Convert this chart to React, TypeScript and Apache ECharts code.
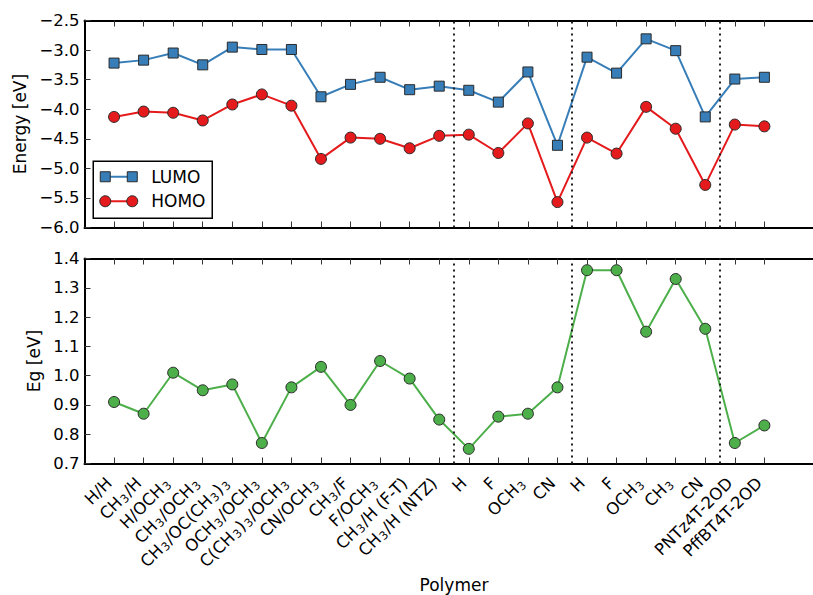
import React, { useEffect, useRef } from "react";
import * as echarts from "echarts";

const categories = [
  "H/H", "CH₃/H", "H/OCH₃", "CH₃/OCH₃", "CH₃/OC(CH₃)₃", "OCH₃/OCH₃",
  "C(CH₃)₃/OCH₃", "CN/OCH₃", "CH₃/F", "F/OCH₃", "CH₃/H (F-T)", "CH₃/H (NTZ)",
  "H", "F", "OCH₃", "CN", "H", "F", "OCH₃", "CH₃", "CN", "PNTz4T-2OD", "PffBT4T-2OD",
];
const lumo = [
  -3.22, -3.17, -3.05, -3.25, -2.95, -2.99, -2.99, -3.79, -3.58, -3.46, -3.67, -3.61,
  -3.68, -3.88, -3.37, -4.61, -3.12, -3.39, -2.81, -3.01, -4.13, -3.49, -3.46,
];
const homo = [
  -4.13, -4.04, -4.06, -4.19, -3.92, -3.75, -3.94, -4.84, -4.48, -4.50, -4.66, -4.45,
  -4.43, -4.74, -4.24, -5.57, -4.48, -4.75, -3.96, -4.33, -5.28, -4.26, -4.29,
];
const eg = [
  0.91, 0.87, 1.01, 0.95, 0.97, 0.77, 0.96, 1.03, 0.90, 1.05, 0.99, 0.85,
  0.75, 0.86, 0.87, 0.96, 1.36, 1.36, 1.15, 1.33, 1.16, 0.77, 0.83,
];
const groupDividers = [11.5, 15.5, 20.5];
const energyTicks = [-6.0, -2.5, 0.5];
const egTicks = [0.7, 1.4, 0.1];

const FONT = "DejaVu Sans";
const BLUE = "#377eb8";
const RED = "#e41a1c";
const GREEN = "#4daf4a";
const EDGE = "#2a2a2a";

export default function App() {
  const ref = useRef<HTMLDivElement>(null);
  useEffect(() => {
    if (!ref.current) return;
    const chart = echarts.init(ref.current, null, { renderer: "svg" });
    const idx = categories.map((_, i) => i);
    const toPts = (arr: number[]) => arr.map((v, i) => [i, v]);
    const fmt = (v: number) => v.toFixed(1).replace("-", "\u2212");
    const toRich = (s: string) => s.replace(/₃/g, "{s|3}");

    const tickStyle = { show: true, inside: true, length: 6, lineStyle: { color: "#333", width: 1 }, customValues: idx };
    const spine = { show: true, onZero: false, lineStyle: { color: "#000", width: 2 } };

    const xBase = (gridIndex: number, position: string, labels: boolean) => ({
      type: "value",
      gridIndex,
      position,
      min: -1,
      max: 24,
      interval: 1,
      axisLine: spine,
      axisTick: tickStyle,
      splitLine: { show: false },
      axisLabel: labels
        ? {
            show: true,
            rotate: 45,
            margin: 12,
            padding: [0, 7, 0, 0],
            fontFamily: FONT,
            fontSize: 16.5,
            lineHeight: 18,
            color: "#000",
            customValues: idx,
            formatter: (v: number) => toRich(categories[Math.round(v)] ?? ""),
            rich: {
              s: { fontFamily: FONT, fontSize: 11.5, lineHeight: 8, verticalAlign: "bottom", color: "#000", padding: [0, 1, 0, 1] },
            },
          }
        : { show: false },
    });

    const divider = {
      symbol: "none",
      silent: true,
      label: { show: false },
      lineStyle: { type: [2, 4], color: "#222", width: 2 },
      data: groupDividers.map((x) => ({ xAxis: x })),
    };

    const option: any = {
      animation: false,
      backgroundColor: "#fff",
      grid: [
        { left: 84.5, top: 20.5, right: 6.5, height: 207 },
        { left: 84.5, top: 258.5, right: 6.5, height: 205 },
      ],
      xAxis: [
        xBase(0, "bottom", false),
        xBase(0, "top", false),
        {
          ...xBase(1, "bottom", true),
          name: "Polymer",
          nameLocation: "middle",
          nameGap: 113,
          nameTextStyle: { fontFamily: FONT, fontSize: 17, color: "#000" },
        },
        xBase(1, "top", false),
      ],
      yAxis: [
        {
          type: "value",
          gridIndex: 0,
          min: energyTicks[0],
          max: energyTicks[1],
          interval: energyTicks[2],
          axisLine: spine,
          axisTick: { show: true, inside: true, length: 6, lineStyle: { color: "#333", width: 1 } },
          splitLine: { show: false },
          axisLabel: { margin: 5, fontFamily: FONT, fontSize: 16.5, color: "#000", formatter: fmt },
          name: "Energy [eV]",
          nameLocation: "middle",
          nameGap: 56,
          nameTextStyle: { fontFamily: FONT, fontSize: 17, color: "#000" },
        },
        {
          type: "value",
          gridIndex: 1,
          min: egTicks[0],
          max: egTicks[1],
          interval: egTicks[2],
          axisLine: spine,
          axisTick: { show: true, inside: true, length: 6, lineStyle: { color: "#333", width: 1 } },
          splitLine: { show: false },
          axisLabel: { margin: 5, fontFamily: FONT, fontSize: 16.5, color: "#000", formatter: fmt },
          name: "Eg [eV]",
          nameLocation: "middle",
          nameGap: 42,
          nameTextStyle: { fontFamily: FONT, fontSize: 17, color: "#000" },
        },
      ],
      series: [
        {
          name: "LUMO",
          type: "line",
          xAxisIndex: 0,
          yAxisIndex: 0,
          data: toPts(lumo),
          symbol: "rect",
          symbolSize: 10,
          lineStyle: { color: BLUE, width: 2 },
          itemStyle: { color: BLUE, borderColor: EDGE, borderWidth: 1 },
          markLine: divider,
          z: 3,
        },
        {
          name: "HOMO",
          type: "line",
          xAxisIndex: 0,
          yAxisIndex: 0,
          data: toPts(homo),
          symbol: "circle",
          symbolSize: 11,
          lineStyle: { color: RED, width: 2 },
          itemStyle: { color: RED, borderColor: EDGE, borderWidth: 1 },
          z: 3,
        },
        {
          name: "Eg",
          type: "line",
          xAxisIndex: 2,
          yAxisIndex: 1,
          data: toPts(eg),
          symbol: "circle",
          symbolSize: 11,
          lineStyle: { color: GREEN, width: 2 },
          itemStyle: { color: GREEN, borderColor: EDGE, borderWidth: 1 },
          markLine: divider,
          z: 3,
        },
      ],
      graphic: [
        {
          type: "group",
          left: 92.5,
          top: 160.5,
          z: 10,
          children: [
            { type: "rect", shape: { x: 0, y: 0, width: 119, height: 57 }, style: { fill: "#fff", stroke: "#000", lineWidth: 1.5 } },
            { type: "line", shape: { x1: 12, y1: 15.5, x2: 39, y2: 15.5 }, style: { stroke: BLUE, lineWidth: 2 } },
            { type: "rect", shape: { x: 7, y: 10.5, width: 10, height: 10 }, style: { fill: BLUE, stroke: EDGE, lineWidth: 1 } },
            { type: "rect", shape: { x: 34, y: 10.5, width: 10, height: 10 }, style: { fill: BLUE, stroke: EDGE, lineWidth: 1 } },
            { type: "text", x: 58, y: 15.5, style: { text: "LUMO", font: `17px '${FONT}'`, fill: "#000", textVerticalAlign: "middle", verticalAlign: "middle" } },
            { type: "line", shape: { x1: 12, y1: 40, x2: 39, y2: 40 }, style: { stroke: RED, lineWidth: 2 } },
            { type: "circle", shape: { cx: 12, cy: 40, r: 5.5 }, style: { fill: RED, stroke: EDGE, lineWidth: 1 } },
            { type: "circle", shape: { cx: 39, cy: 40, r: 5.5 }, style: { fill: RED, stroke: EDGE, lineWidth: 1 } },
            { type: "text", x: 58, y: 40, style: { text: "HOMO", font: `17px '${FONT}'`, fill: "#000", textVerticalAlign: "middle", verticalAlign: "middle" } },
          ],
        },
      ],
    };
    chart.setOption(option);
    return () => chart.dispose();
  }, []);
  return (
    <div style={{ position: "absolute", left: 0, top: 0, width: 813, height: 595, overflow: "hidden", background: "#fff" }}>
      <div ref={ref} style={{ width: 830, height: 595 }} />
    </div>
  );
}
